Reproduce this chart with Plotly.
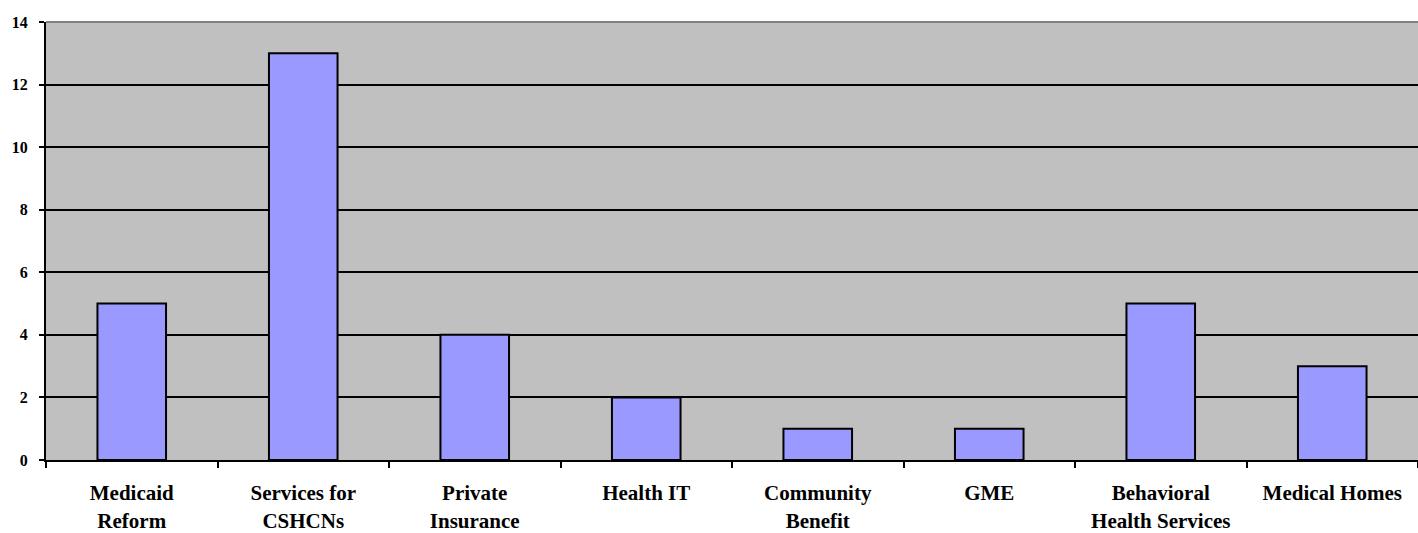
import plotly.graph_objects as go

categories = ["Medicaid<br>Reform", "Services for<br>CSHCNs", "Private<br>Insurance", "Health IT",
              "Community<br>Benefit", "GME", "Behavioral<br>Health Services", "Medical Homes"]
values = [5, 13, 4, 2, 1, 1, 5, 3]
y_ticks = [0, 2, 4, 6, 8, 10, 12, 14]

font_family = "Liberation Serif, Times New Roman, serif"

fig = go.Figure(go.Bar(
    x=categories, y=values,
    marker=dict(color="#9999FF", line=dict(color="black", width=2)),
    width=0.4,
))

fig.update_layout(
    width=1418, height=533,
    margin=dict(l=46, r=0, t=22, b=73),
    paper_bgcolor="white",
    plot_bgcolor="#C0C0C0",
    showlegend=False,
    font=dict(family=font_family, color="black"),
    bargap=0.6,
)
fig.update_xaxes(
    automargin=False,
    tickfont=dict(family=font_family, size=21, color="black", weight="bold"),
    ticks="outside", tickson="boundaries", ticklen=6, tickwidth=2, tickcolor="black",
    showline=True, linecolor="black", linewidth=2,
    showgrid=False, ticklabelstandoff=13,
)
fig.update_yaxes(
    automargin=False,
    range=[0, 14], tickvals=y_ticks,
    tickfont=dict(family=font_family, size=16, color="black", weight="bold"),
    ticks="outside", ticklen=5, tickwidth=2, tickcolor="black",
    showline=True, linecolor="black", linewidth=2,
    showgrid=True, gridcolor="black", gridwidth=2,
    zeroline=False, ticklabelstandoff=8,
)
fig.add_shape(type="line", xref="paper", yref="paper", x0=0, x1=1, y0=1, y1=1,
              line=dict(color="#808080", width=2))

fig.write_html(
    "out.html",
    config={"displayModeBar": False},
    post_script="document.body.style.margin='0';document.body.style.overflow='hidden';",
)
